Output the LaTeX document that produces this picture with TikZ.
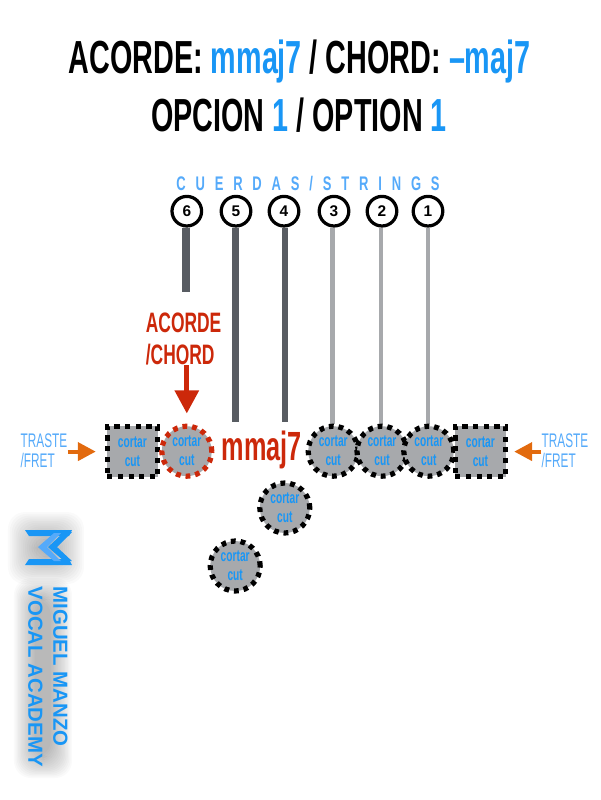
\documentclass[tikz,border=0pt]{standalone}
\usepackage{fontspec}
\setmainfont{Liberation Sans}
\newfontfamily\condfont[FakeStretch=0.62]{Liberation Sans}
\newfontfamily\spacedfont[FakeStretch=0.66,LetterSpace=50]{Liberation Sans}
\newfontfamily\fretfont[FakeStretch=0.6]{Liberation Sans}
\usetikzlibrary{arrows.meta,positioning,calc}
\definecolor{titleblue}{RGB}{25,150,245}
\definecolor{labelblue}{RGB}{85,170,250}
\definecolor{chordred}{RGB}{204,40,10}
\definecolor{fretorange}{RGB}{226,106,14}
\definecolor{cutgray}{RGB}{167,169,172}
\definecolor{stringdark}{RGB}{88,92,98}
\tikzset{
    titletext/.style={anchor=base, font=\condfont\bfseries\fontsize{33}{33}\selectfont, text=black, inner sep=0pt},
    stringnum/.style={draw, circle, line width=2.3pt, minimum size=0.74cm, inner sep=0pt, fill=white, font=\bfseries\fontsize{11}{11}\selectfont},
    cutcircle/.style={draw, circle, fill=cutgray, line width=3.7pt, dash pattern=on 3.4pt off 3.5pt, minimum size=1.25cm, inner sep=0pt, align=center, text=titleblue, font=\condfont\bfseries\fontsize{11.7}{13.5}\selectfont},
    cutsquare/.style={cutcircle, rectangle, minimum size=1.26cm, dash pattern=on 3.6pt off 4pt},
    fretlabel/.style={text=labelblue, align=left, inner sep=0pt, font=\fretfont\fontsize{14}{14.3}\selectfont},
    fretarrow/.style={-{Triangle[length=4.5mm, width=4.5mm]}, line width=2.9pt, draw=fretorange},
    stringline/.style={draw=stringdark, line width=#1}
}
\begin{document}
\begin{tikzpicture}
    \useasboundingbox (0,0) rectangle (15,20);
    % titles
    \node[titletext] (title1) at (7.49,18.15) {ACORDE: \textcolor{titleblue}{mmaj7} / CHORD: \textcolor{titleblue}{–maj7}};
    \node[titletext] (title2) at (7.475,16.7) {OPCION \textcolor{titleblue}{1} / OPTION \textcolor{titleblue}{1}};
    \node[text=labelblue, font=\spacedfont\bfseries\fontsize{14}{14}\selectfont, inner sep=0pt] (strtitle) at (7.7,15.42) {CUERDAS/STRINGS};

    % string numbers
    \node[stringnum] (s6) at (4.67,14.72) {6};
    \node[stringnum] (s5) at (5.9,14.72) {5};
    \node[stringnum] (s4) at (7.1,14.72) {4};
    \node[stringnum] (s3) at (8.35,14.72) {3};
    \node[stringnum] (s2) at (9.55,14.72) {2};
    \node[stringnum] (s1) at (10.7,14.72) {1};

    % ends of the strings
    \coordinate (e6) at (4.65,12.7);
    \coordinate (e5) at (5.88,9.45);
    \coordinate (e4) at (7.12,9.45);
    \coordinate (e3) at (8.32,9.4);
    \coordinate (e2) at (9.53,9.4);
    \coordinate (e1) at (10.7,9.4);
    \draw[stringline=5.2pt] (s6.south -| e6) -- (e6);
    \draw[stringline=5.2pt] (s5.south -| e5) -- (e5);
    \draw[stringline=4.6pt] (s4.south -| e4) -- (e4);
    \draw[stringline=3.8pt, draw=cutgray] (s3.south -| e3) -- (e3);
    \draw[stringline=3pt, draw=cutgray] (s2.south -| e2) -- (e2);
    \draw[stringline=2.3pt, draw=cutgray] (s1.south -| e1) -- (e1);

    % fret row
    \node[cutsquare] (sqleft) at (3.31,8.71) {cortar\\cut};
    \node[cutcircle, draw=chordred] (redcut) at (4.67,8.72) {cortar\\cut};
    \node[text=chordred, font=\condfont\bfseries\fontsize{29}{29}\selectfont, inner sep=0pt] (chordname) at (6.54,8.74) {mmaj7};
    \node[cutcircle] (c3) at (8.33,8.72) {cortar\\cut};
    \node[cutcircle] (c2) at (9.55,8.72) {cortar\\cut};
    \node[cutcircle] (c1) at (10.72,8.72) {cortar\\cut};
    \node[cutsquare] (sqright) at (12.01,8.71) {cortar\\cut};
    \node[cutcircle] (c4) at (7.12,7.3) {cortar\\cut};
    \node[cutcircle] (c5) at (5.88,5.85) {cortar\\cut};

    % chord label and arrow
    \node[text=chordred, align=left, font=\condfont\bfseries\fontsize{20}{22.8}\selectfont, inner sep=0pt] (chordlabel) at (4.59,11.525) {ACORDE\\/CHORD};
    \draw[-{Triangle[length=5.8mm, width=5.8mm]}, line width=3.8pt, draw=chordred, shorten >=2.5mm] (chordlabel.south -| redcut.north) -- (redcut.north);

    % fret labels
    \node[fretlabel] (fretl) at (1.1,8.74) {TRASTE\\/FRET};
    \node[fretlabel] (fretr) at (14.125,8.74) {TRASTE\\/FRET};
    \draw[fretarrow, shorten >=2.2mm] (fretl.east |- sqleft.west) -- (sqleft.west);
    \draw[fretarrow, shorten >=1.5mm] (fretr.west |- sqright.east) -- (sqright.east);

    % shadow and logo
    \begin{scope}[x=0.025cm, y=-0.025cm, shift={(0,-800)}]
        \foreach \k in {0,1,...,15} {
            \fill[black, opacity=0.018, rounded corners=12pt] (8+1.9*\k,512+1.8*\k) rectangle (84-1.9*\k,584-1.8*\k);
            \fill[black, opacity=0.018, rounded corners=12pt] (14+1.4*\k,578+1.4*\k) rectangle (72-1.4*\k,778-1.4*\k);
        }
        \fill[titleblue] (25,530) -- (72,530) -- (69,536) -- (29,536) -- cycle;
        \fill[titleblue] (25,565) -- (72,565) -- (69,559) -- (29,559) -- cycle;
        \fill[titleblue] (72,532) -- (64,532) -- (48,547) -- (64,561) -- (72,561) -- (57,547) -- cycle;
        \fill[labelblue] (61,533) -- (54,533) -- (38,547) -- (54,561) -- (61,561) -- (47,547) -- cycle;
    \end{scope}
    \node[rotate=-90, text=titleblue, font=\bfseries\fontsize{14.5}{17.8}\selectfont, align=left, inner sep=0pt] (brand) at (1.2,3.08) {MIGUEL MANZO\\VOCAL ACADEMY};
\end{tikzpicture}
\end{document}
